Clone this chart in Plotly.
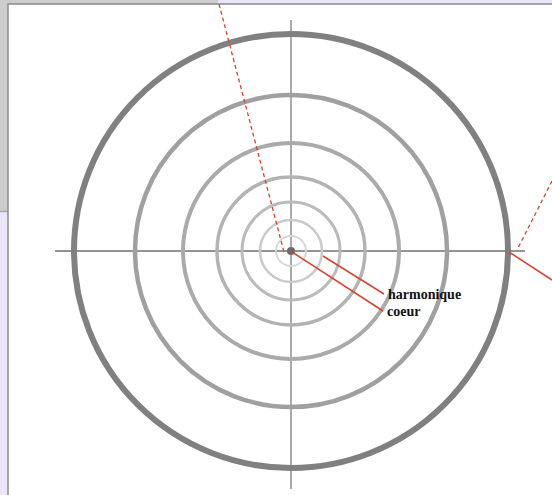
import plotly.graph_objects as go

# ---- data (pixel-like coordinates of the slide) ----
center_x = 291
center_y = 251
ring_radii = [217, 156, 108, 74, 49, 31, 15]
axis_h_x = [55, 525]
axis_v_y = [20, 489]
labels = ["harmonique", "coeur"]
label_line_x0 = [323, 292]
label_line_y0 = [256, 252]
label_line_x1 = [384, 383]
label_line_y1 = [294, 311]
dashed_x = [[219, 284], [552, 517]]
dashed_y = [[4, 252], [181, 250]]
outer_line_x = [509, 552]
outer_line_y = [252, 280]

# ---- styles ----
ring_colors = ["#808080", "#a0a0a0", "#aaaaaa", "#b3b3b3", "#bbbbbb", "#cacaca", "#d8d8d8"]
ring_widths = [6, 4.5, 4, 3.5, 3, 2.5, 2]
RED = "#d8432e"

W, H = 552, 495
fig = go.Figure()
fig.add_trace(go.Scatter(x=[0, W], y=[0, H], mode="markers", marker=dict(opacity=0), hoverinfo="skip", showlegend=False))

shapes = []
# backgrounds
shapes.append(dict(type="rect", x0=0, x1=W, y0=0, y1=H, fillcolor="#ebe6fa", line=dict(width=0), layer="below"))
shapes.append(dict(type="rect", x0=0, x1=218, y0=0, y1=212, fillcolor="#cdcdcd", line=dict(width=0), layer="below"))
shapes.append(dict(type="line", x0=0, x1=218, y0=211.5, y1=211.5, line=dict(color="#a8a8a8", width=1.5), layer="below"))
shapes.append(dict(type="rect", x0=8, x1=W + 2, y0=4, y1=H + 2, fillcolor="#ffffff", line=dict(color="#8a8a8a", width=1.5), layer="below"))

# axes cross
shapes.append(dict(type="line", x0=center_x, x1=center_x, y0=axis_v_y[0], y1=axis_v_y[1], line=dict(color="#aaaaaa", width=2)))
shapes.append(dict(type="line", x0=axis_h_x[0], x1=axis_h_x[1], y0=center_y, y1=center_y, line=dict(color="#707070", width=1.5)))

# rings
for r, c, w in zip(ring_radii, ring_colors, ring_widths):
    shapes.append(dict(type="circle", x0=center_x - r, x1=center_x + r, y0=center_y - r, y1=center_y + r,
                       line=dict(color=c, width=w)))
# centre dot
shapes.append(dict(type="circle", x0=center_x - 4, x1=center_x + 4, y0=center_y - 4, y1=center_y + 4,
                   fillcolor="#6a6a6a", line=dict(width=0)))

# red dashed lines
for xs, ys in zip(dashed_x, dashed_y):
    shapes.append(dict(type="line", x0=xs[0], x1=xs[1], y0=ys[0], y1=ys[1], line=dict(color=RED, width=1.3, dash="4px,3px")))
# red solid lines
shapes.append(dict(type="line", x0=outer_line_x[0], x1=outer_line_x[1], y0=outer_line_y[0], y1=outer_line_y[1], line=dict(color=RED, width=1.5)))
for x0, y0, x1, y1 in zip(label_line_x0, label_line_y0, label_line_x1, label_line_y1):
    shapes.append(dict(type="line", x0=x0, x1=x1, y0=y0, y1=y1, line=dict(color=RED, width=1.5)))

fig.update_layout(shapes=shapes)

for t, x, y in zip(labels, label_line_x1, label_line_y1):
    fig.add_annotation(x=x + 2, y=y, text="<b>%s</b>" % t, showarrow=False, xanchor="left", yanchor="middle",
                       font=dict(family="Liberation Serif", size=14, color="#111111"))

fig.update_layout(
    width=W, height=H, margin=dict(l=0, r=0, t=0, b=0),
    paper_bgcolor="#ebe6fa", plot_bgcolor="#ebe6fa",
    xaxis=dict(range=[0, W], visible=False, fixedrange=True),
    yaxis=dict(range=[H, 0], visible=False, fixedrange=True),
    showlegend=False,
)
fig.write_html("out.html", config={"displayModeBar": False},
               post_script="document.body.style.margin='0';document.body.style.overflow='hidden';")
